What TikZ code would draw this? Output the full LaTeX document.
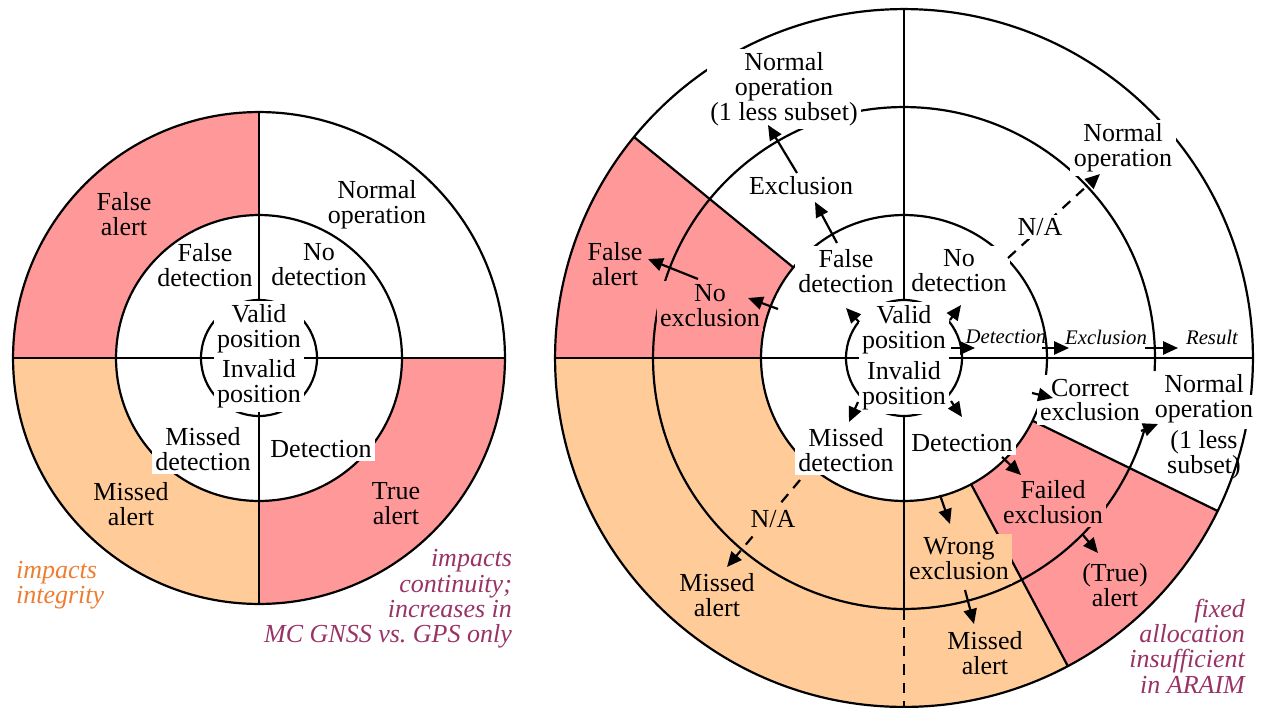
\documentclass[tikz,border=0pt]{standalone}
\usepackage{fontspec}
\setmainfont{Liberation Serif}
\usetikzlibrary{arrows.meta,calc}
\definecolor{salmon}{RGB}{255,153,153}
\definecolor{peach}{RGB}{255,204,153}
\definecolor{annorange}{RGB}{237,125,49}
\definecolor{annpurple}{RGB}{153,51,102}
\newcommand\mysector[6]{%
  \fill[#6] ($(#1)+(#2:#4)$) -- ($(#1)+(#2:#5)$)
    arc[start angle=#2, end angle=#3, radius=#5]
    -- ($(#1)+(#3:#4)$)
    arc[start angle=#3, end angle=#2, radius=#4] -- cycle;}
\newcommand\myradial[4]{\draw ($(#1)+(#2:#3)$) -- ($(#1)+(#2:#4)$);}
\begin{document}
\begin{tikzpicture}[x=0.02cm, y=-0.02cm, line width=1.25pt,
  lbl/.style={align=center, inner sep=2pt, font=\fontsize{14.8}{14.2}\selectfont},
  wlbl/.style={lbl, fill=white},
  axl/.style={inner sep=0pt, font=\fontsize{11.8}{12}\selectfont\itshape},
  ann/.style={inner sep=0pt, font=\fontsize{14.8}{14.4}\selectfont\itshape},
  arr/.style={-{Triangle[length=8.5pt,width=7.5pt]}},
  dsh/.style={dash pattern=on 6pt off 4.5pt},
]
\useasboundingbox (0,0) rectangle (1265,707);
\coordinate (L) at (259,358);
\coordinate (C) at (904,358);
% ---------- fills
\mysector{L}{90}{180}{2.86cm}{4.92cm}{salmon}
\mysector{L}{180}{270}{2.86cm}{4.92cm}{peach}
\mysector{L}{270}{360}{2.86cm}{4.92cm}{salmon}
\mysector{C}{140.7}{180}{2.86cm}{6.98cm}{salmon}
\mysector{C}{180}{298}{2.86cm}{6.98cm}{peach}
\mysector{C}{298}{334}{2.86cm}{6.98cm}{salmon}
% ---------- left rings and axes
\draw (L) circle[radius=4.92cm];
\draw (L) circle[radius=2.86cm];
\draw (L) circle[radius=1.16cm];
\draw ($(L)+(180:4.92cm)$) -- ($(L)+(0:4.92cm)$);
\draw ($(L)+(90:4.92cm)$) -- ($(L)+(270:4.92cm)$);
% ---------- right rings and axes
\draw (C) circle[radius=6.98cm];
\draw ($(C)+(-3:5.02cm)$) arc[start angle=-3, end angle=344.5, radius=5.02cm];
\draw (C) circle[radius=2.86cm];
\draw (C) circle[radius=1.16cm];
\draw ($(C)+(180:6.98cm)$) -- ($(C)+(0:6.98cm)$);
\draw ($(C)+(90:6.98cm)$) -- ($(C)+(90:1.16cm)$);
\draw ($(C)+(270:1.16cm)$) -- ($(C)+(270:5.02cm)$);
\draw[dsh] ($(C)+(270:5.02cm)$) -- ($(C)+(270:6.98cm)$);
\myradial{C}{140.7}{2.86cm}{6.98cm}
\myradial{C}{298}{2.86cm}{6.98cm}
\myradial{C}{334}{2.86cm}{6.98cm}
% ---------- left texts
\node[lbl] (faL) at (124,214) {False\\alert};
\node[lbl] (noL) at (377,205) {Normal\\operation};
\node[lbl] (fdL) at (205,265) {False\\detection};
\node[lbl] (ndL) at (319,265) {No\\detection};
\node[wlbl] (vpL) at (259,329) {Valid\\position};
\node[wlbl] (ipL) at (259,384) {Invalid\\position};
\node[wlbl] (mdL) at (203,449) {Missed\\detection};
\node[wlbl] (detL) at (321,449) {Detection};
\node[lbl] (maL) at (131,504) {Missed\\alert};
\node[lbl] (taL) at (396,504) {True\\alert};
\node[ann, text=annorange, align=left, anchor=west] (ann1) at (15,585) {impacts\\integrity};
\node[ann, text=annpurple, align=right, anchor=east] (ann2) at (513,599) {impacts\\continuity;\\increases in\\MC GNSS vs.\ GPS only};
% ---------- right texts
\node[wlbl] (no1) at (784,89) {Normal\\operation\\(1 less subset)};
\node[wlbl] (excl) at (801,186) {Exclusion};
\node[wlbl] (no2) at (1123,148) {Normal\\operation};
\node[lbl] (fa) at (615,264) {False\\alert};
\node[lbl, fill=salmon] (nex) at (710,306) {No\\exclusion};
\node[wlbl] (fdR) at (846,271) {False\\detection};
\node[wlbl] (ndR) at (959,271) {No\\detection};
\node[wlbl] (vpR) at (904,330) {Valid\\position};
\node[wlbl] (ipR) at (904,386) {Invalid\\position};
\node[axl] (detl) at (1006,337) {Detection};
\node[axl] (exl) at (1106,337) {Exclusion};
\node[axl] (resl) at (1212,337) {Result};
\node[wlbl] (cex) at (1090,400) {Correct\\exclusion};
\node[lbl] (no3) at (1204,426) {\fboxsep=1pt\lineskiplimit=-8pt\colorbox{white}{Normal}\\\colorbox{white}{operation}\\(1 less\\subset)};
\node[wlbl] (mdR) at (846,450) {Missed\\detection};
\node[wlbl] (detR) at (962,443) {Detection};
\node[lbl, fill=salmon] (fex) at (1053,502) {Failed\\exclusion};
\node[lbl, fill=peach] (wex) at (959,559) {Wrong\\exclusion};
\node[lbl] (ta) at (1115,585) {(True)\\alert};
\node[lbl] (maR1) at (717,595) {Missed\\alert};
\node[lbl] (maR2) at (985,653) {Missed\\alert};
\node[ann, text=annpurple, align=right, anchor=east] (ann3) at (1246,646) {fixed\\allocation\\insufficient\\in ARAIM};
% ---------- connector end points
\coordinate (d1s) at (1008,258); \coordinate (d1e) at (1100,174);
\coordinate (d2s) at (800,480);  \coordinate (d2e) at (727,567);
\draw[arr, dsh] (d1s) -- (d1e);
\draw[arr, dsh] (d2s) -- (d2e);
\node[lbl, fill=white] (na1) at (1040,227) {N/A};
\node[lbl, fill=peach] (na2) at (773,519) {N/A};
\coordinate (a1s) at (837,243);  \coordinate (a1e) at (815,202);
\coordinate (a2s) at (797,173);  \coordinate (a2e) at (768,125);
\coordinate (a3s) at (778,309);  \coordinate (a3e) at (748,298);
\coordinate (a4s) at (698,279);  \coordinate (a4e) at (648,259);
\coordinate (a7s) at (951,348);  \coordinate (a7e) at (975,348);
\coordinate (a8s) at (1042,348); \coordinate (a8e) at (1069,348);
\coordinate (a9s) at (1145,348); \coordinate (a9e) at (1178,348);
\coordinate (a10s) at (1032,393); \coordinate (a10e) at (1053,398);
\coordinate (a11s) at (1002,457); \coordinate (a11e) at (1021,475);
\coordinate (a12s) at (940,495);  \coordinate (a12e) at (950,524);
\coordinate (a13s) at (1083,535); \coordinate (a13e) at (1098,553);
\coordinate (a14s) at (965,590);  \coordinate (a14e) at (974,624);
\coordinate (a15s) at (1141,431); \coordinate (a15e) at (1158,424);
\coordinate (s1s) at (859,322); \coordinate (s1e) at (846,308);
\coordinate (s2s) at (950,320); \coordinate (s2e) at (961,305);
\coordinate (s3s) at (858,402); \coordinate (s3e) at (849,422);
\coordinate (s4s) at (951,401); \coordinate (s4e) at (962,417);
\foreach \p in {a1,a2,a3,a4,a7,a8,a9,a10,a11,a12,a13,a14,a15,s1,s2,s3,s4}
  \draw[arr] (\p s) -- (\p e);
\end{tikzpicture}
\end{document}
